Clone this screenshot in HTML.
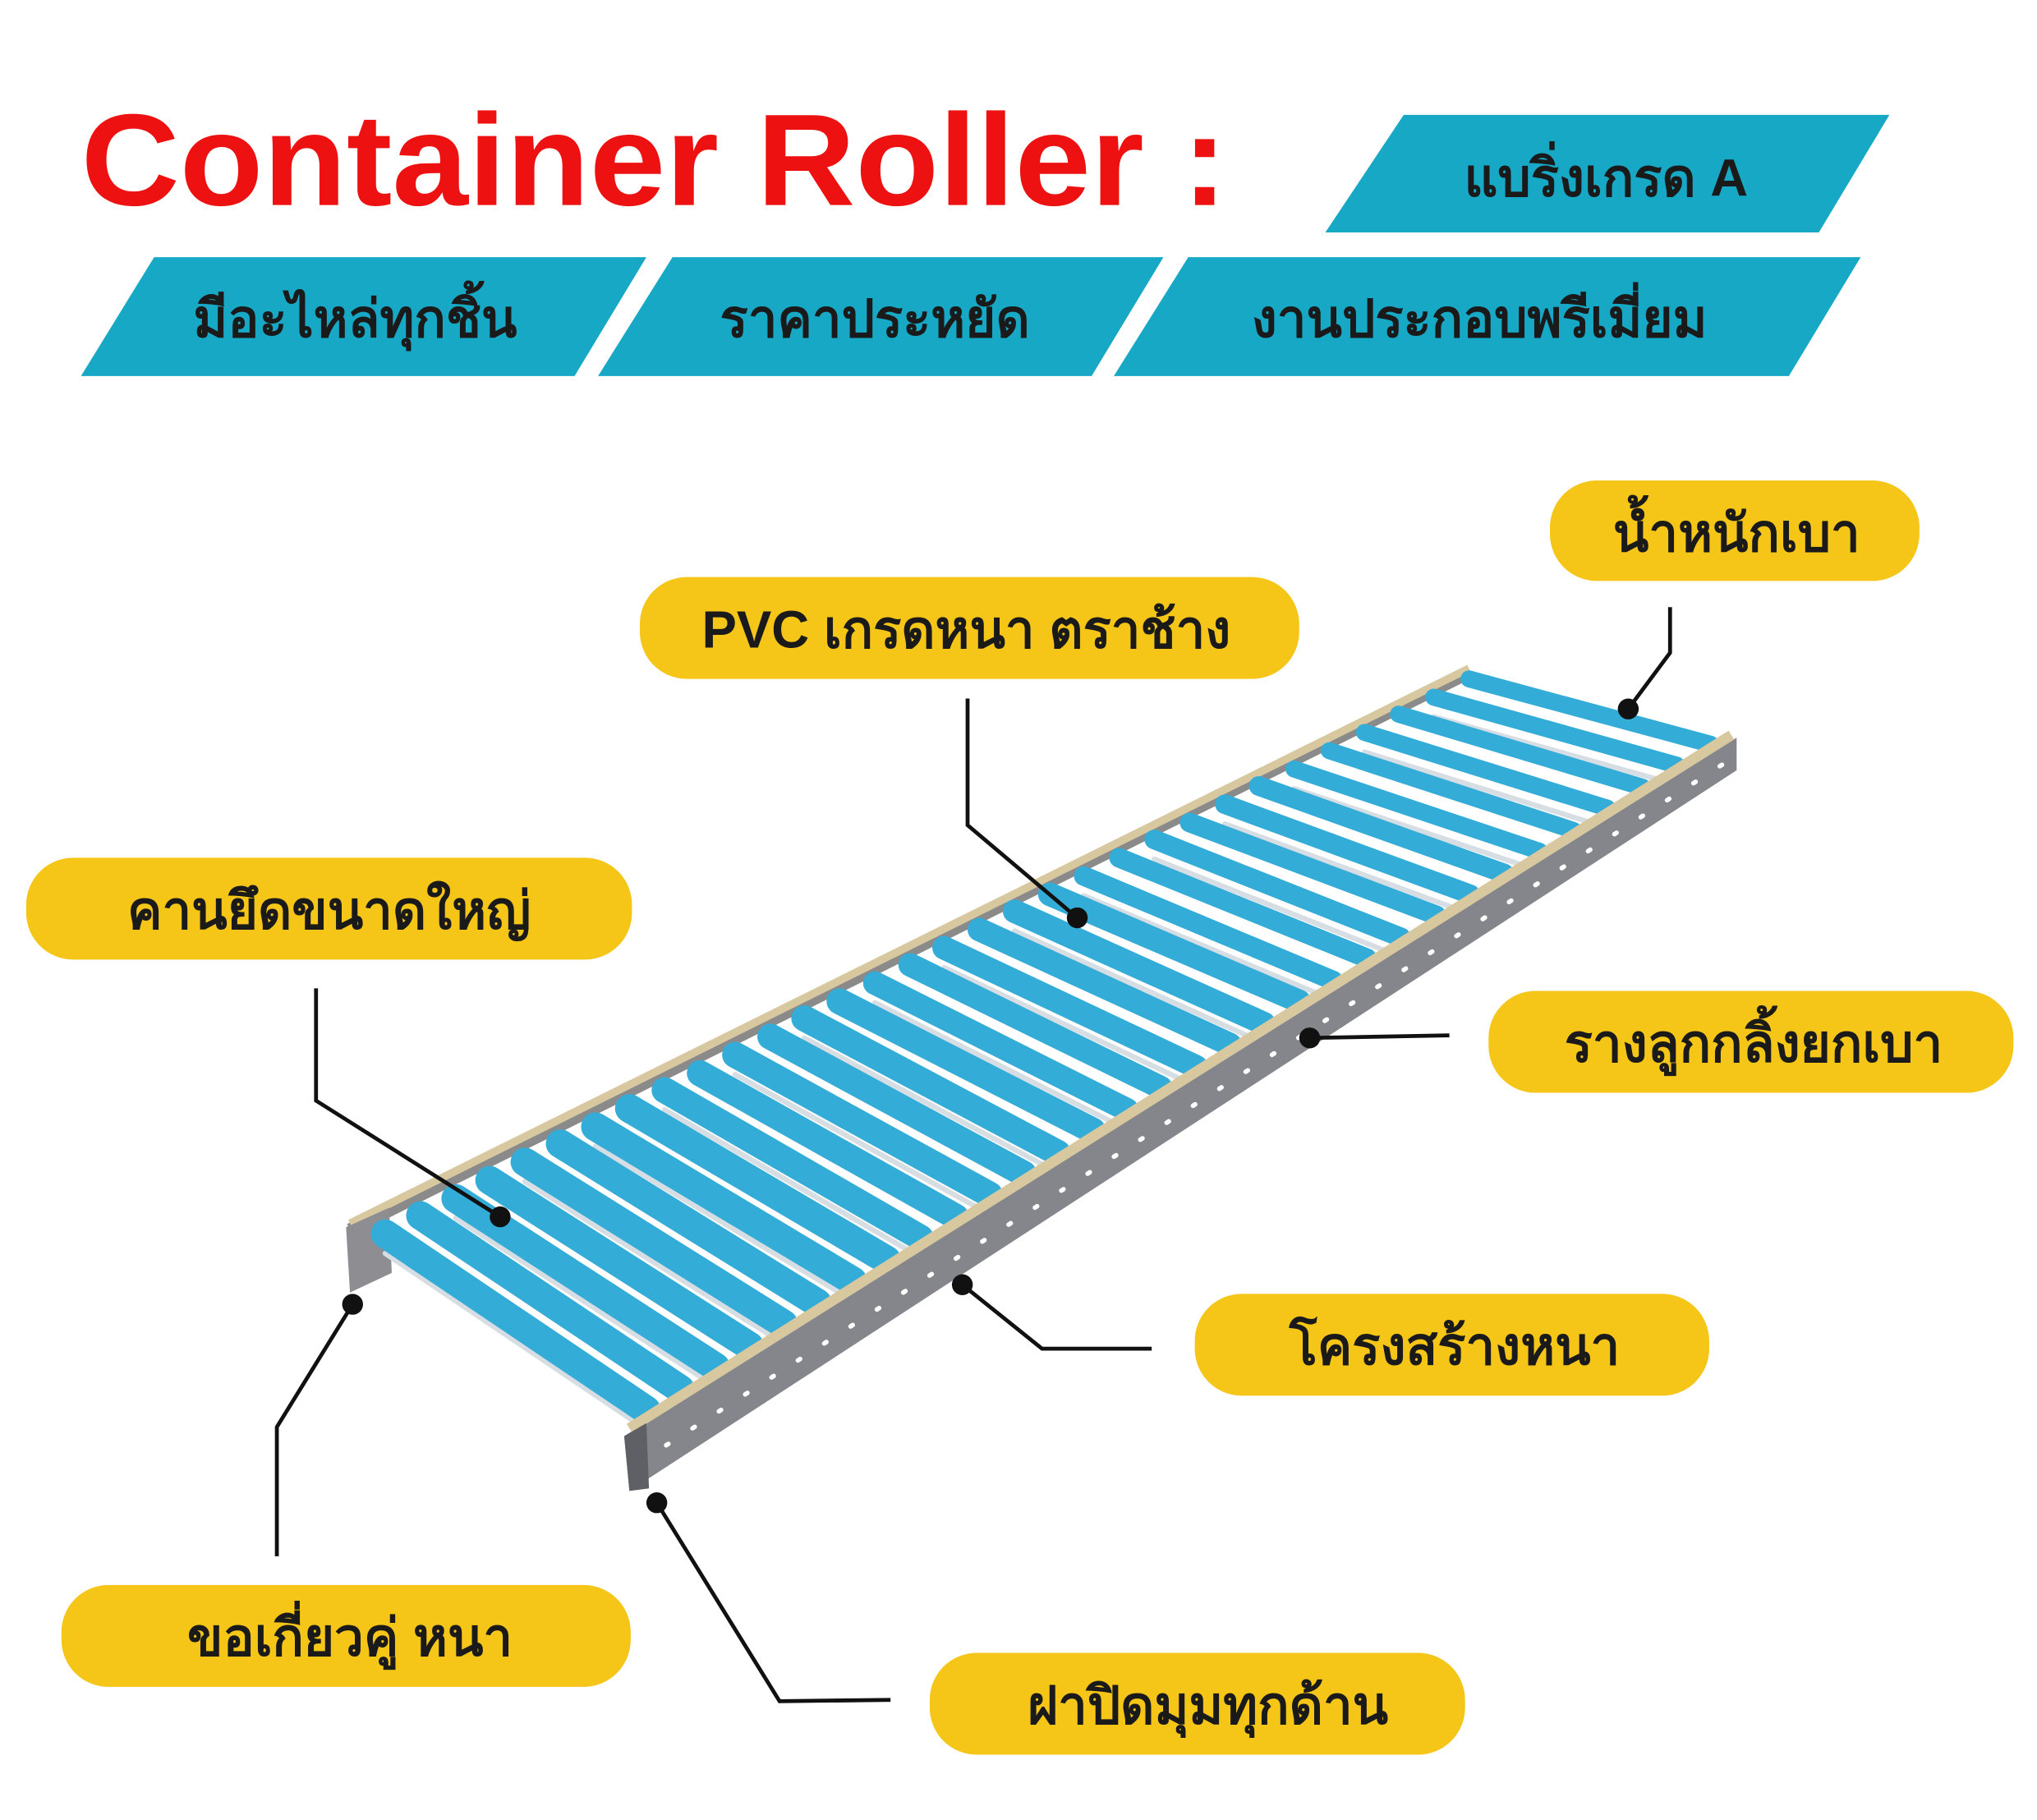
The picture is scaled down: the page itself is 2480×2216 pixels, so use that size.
<!DOCTYPE html>
<html><head><meta charset="utf-8"><style>
html,body{margin:0;padding:0;background:#fff}
svg{display:block}
text{font-family:"Liberation Sans",sans-serif;font-weight:bold}
</style></head><body>
<svg width="2480" height="2216" viewBox="0 0 1560 1394" xmlns="http://www.w3.org/2000/svg">
<rect width="1560" height="1394" fill="#fff"/>
<text x="62" y="157" font-size="100" fill="#ee1111" textLength="878" lengthAdjust="spacingAndGlyphs">Container Roller :</text>
<g fill="#17a8c6">
<polygon points="1075,88 1447,88 1393,178 1015,178"/>
<polygon points="118,197 495,197 440,288 62,288"/>
<polygon points="515,197 891,197 836,288 458,288"/>
<polygon points="910,197 1425,197 1370,288 853,288"/>
</g>
<g fill="#1a1a1a" font-size="40" text-anchor="middle">
<text x="1230" y="150">แบริ่งเกรด A</text>
<text x="272" y="258">มีอะไหล่ทุกชิ้น</text>
<text x="670" y="258">ราคาประหยัด</text>
<text x="1133" y="258">งานประกอบพรีเมี่ยม</text>
</g>
<!-- conveyor -->
<g>
<line x1="268" y1="942" x2="1125" y2="515" stroke="#8a8a8a" stroke-width="10"/>
<line x1="268" y1="937" x2="1125" y2="512" stroke="#d8c8a0" stroke-width="6"/>
<polygon points="265,940 298,925 300,975 268,990" fill="#8d8d92"/>
<g stroke-linecap="round">
<g stroke="#d6dde3" stroke-width="4">
<line x1="295" y1="960" x2="495" y2="1095"/><line x1="349" y1="933" x2="548" y2="1062"/><line x1="402" y1="905" x2="600" y2="1029"/><line x1="456" y1="878" x2="653" y2="996"/><line x1="509" y1="850" x2="705" y2="963"/><line x1="563" y1="823" x2="758" y2="930"/><line x1="616" y1="795" x2="810" y2="898"/><line x1="670" y1="768" x2="863" y2="865"/><line x1="723" y1="741" x2="916" y2="832"/><line x1="777" y1="713" x2="968" y2="799"/><line x1="830" y1="686" x2="1021" y2="766"/><line x1="884" y1="658" x2="1073" y2="733"/><line x1="938" y1="631" x2="1126" y2="700"/><line x1="991" y1="604" x2="1179" y2="667"/><line x1="1045" y1="576" x2="1231" y2="634"/><line x1="1098" y1="549" x2="1284" y2="601"/>
</g>
<g stroke="#34acd8" stroke-width="13">
<line x1="1125" y1="520" x2="1310" y2="570"/><line x1="1098" y1="534" x2="1284" y2="586"/><line x1="1071" y1="547" x2="1258" y2="603"/><line x1="1045" y1="561" x2="1231" y2="619"/><line x1="1018" y1="575" x2="1205" y2="636"/><line x1="991" y1="589" x2="1179" y2="652"/>
</g>
<g stroke="#34acd8" stroke-width="15">
<line x1="964" y1="602" x2="1152" y2="669"/><line x1="938" y1="616" x2="1126" y2="685"/><line x1="911" y1="630" x2="1100" y2="701"/><line x1="884" y1="643" x2="1073" y2="718"/><line x1="857" y1="657" x2="1047" y2="734"/><line x1="830" y1="671" x2="1021" y2="751"/>
</g>
<g stroke="#34acd8" stroke-width="18">
<line x1="804" y1="685" x2="995" y2="767"/><line x1="777" y1="698" x2="968" y2="784"/><line x1="750" y1="712" x2="942" y2="800"/><line x1="723" y1="726" x2="916" y2="817"/><line x1="697" y1="739" x2="889" y2="833"/><line x1="670" y1="753" x2="863" y2="850"/>
</g>
<g stroke="#34acd8" stroke-width="20">
<line x1="643" y1="767" x2="837" y2="866"/><line x1="616" y1="780" x2="810" y2="883"/><line x1="590" y1="794" x2="784" y2="899"/><line x1="563" y1="808" x2="758" y2="915"/><line x1="536" y1="822" x2="732" y2="932"/><line x1="509" y1="835" x2="705" y2="948"/>
</g>
<g stroke="#34acd8" stroke-width="22">
<line x1="482" y1="849" x2="679" y2="965"/><line x1="456" y1="863" x2="653" y2="981"/><line x1="429" y1="876" x2="626" y2="998"/><line x1="402" y1="890" x2="600" y2="1014"/><line x1="375" y1="904" x2="574" y2="1031"/><line x1="349" y1="918" x2="548" y2="1047"/><line x1="322" y1="931" x2="521" y2="1064"/><line x1="295" y1="945" x2="495" y2="1080"/>
</g>
</g>
<polygon points="478,1100 1330,565 1330,590 482,1142" fill="#85868c"/>
<line x1="482" y1="1094" x2="1326" y2="563" stroke="#d8c8a0" stroke-width="8"/>
<line x1="490" y1="1120" x2="1320" y2="585" stroke="#fff" stroke-width="3.5" stroke-dasharray="2 22" stroke-linecap="round"/>
<polygon points="478,1100 495,1090 497,1140 482,1142" fill="#5f6066"/>
</g>
<!-- pills -->
<g fill="#f5c518">
<rect x="1187" y="368" width="283" height="77" rx="36"/>
<rect x="490" y="442" width="505" height="78" rx="36"/>
<rect x="20" y="657" width="464" height="78" rx="36"/>
<rect x="1140" y="759" width="402" height="78" rx="36"/>
<rect x="915" y="991" width="394" height="78" rx="36"/>
<rect x="47" y="1214" width="436" height="78" rx="36"/>
<rect x="712" y="1266" width="410" height="78" rx="36"/>
</g>
<g fill="#1a1a1a" font-size="40" text-anchor="middle">
<text x="1330" y="422">น้ำหนักเบา</text>
<text x="740" y="496">PVC เกรดหนา ตราช้าง</text>
<text x="252" y="711">คานยึดขนาดใหญ่</text>
<text x="1343" y="813">รางลูกกลิ้งยกเบา</text>
<text x="1114" y="1045">โครงสร้างหนา</text>
<text x="268" y="1268">ขอเกี่ยวคู่ หนา</text>
<text x="925" y="1320">ฝาปิดมุมทุกด้าน</text>
</g>
<!-- leaders -->
<g fill="none" stroke="#111" stroke-width="3">
<polyline points="1279,465 1279,500 1247,543"/>
<polyline points="741,535 741,632 825,703"/>
<polyline points="242,757 242,843 383,932"/>
<polyline points="1110,793 1003,795"/>
<polyline points="882,1033 798,1033 737,984"/>
<polyline points="212,1192 212,1093 270,999"/>
<polyline points="682,1302 597,1303 503,1151"/>
</g>
<g fill="#111">
<circle cx="1247" cy="543" r="8"/><circle cx="825" cy="703" r="8"/><circle cx="383" cy="932" r="8"/>
<circle cx="1003" cy="795" r="8"/><circle cx="737" cy="984" r="8"/><circle cx="270" cy="999" r="8"/><circle cx="503" cy="1151" r="8"/>
</g>
</svg>
</body></html>
